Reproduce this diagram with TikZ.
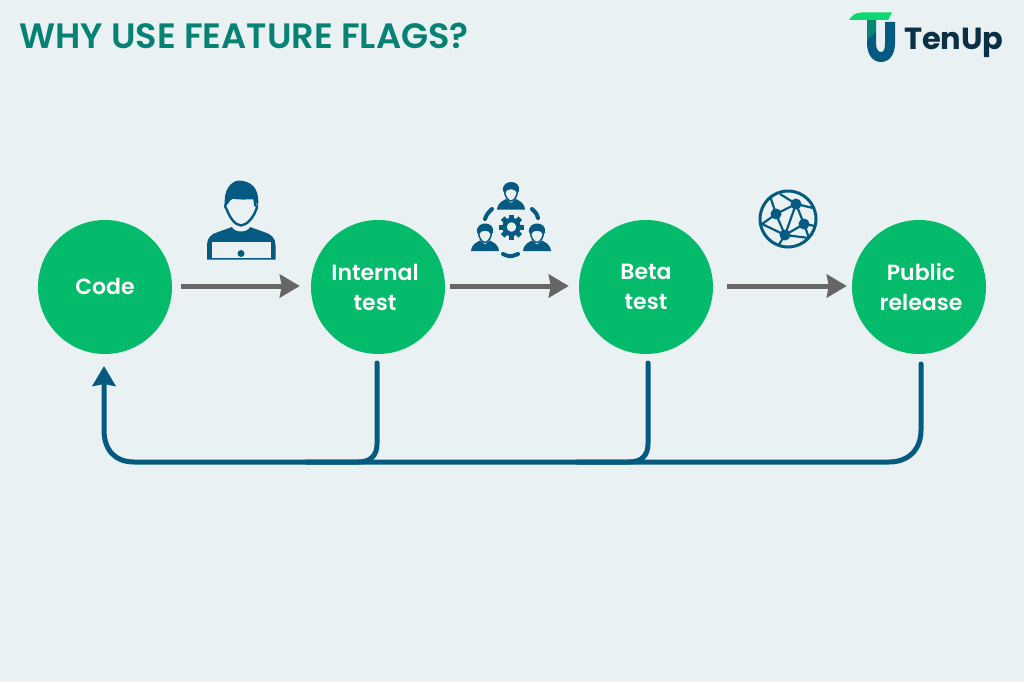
\documentclass[tikz,border=0pt]{standalone}
\usepackage{fontspec}
\setmainfont{Poppins}[BoldFont={Poppins SemiBold}]
\newfontfamily\brandfont{Poppins}[UprightFont={Poppins SemiBold},BoldFont={Poppins Bold}]
\usetikzlibrary{arrows.meta}
\definecolor{bgc}{HTML}{E9F1F2}
\definecolor{greenc}{HTML}{04BA6B}
\definecolor{titlec}{HTML}{058273}
\definecolor{bluec}{HTML}{055A82}
\definecolor{grayc}{HTML}{666666}
\definecolor{navyc}{HTML}{0B2F45}
\definecolor{logog}{HTML}{0BD86E}
\definecolor{logot}{HTML}{0A8571}
\tikzset{
  stage/.style={circle,fill=greenc,minimum size=134pt,inner sep=0pt,text=white,font=\fontsize{22}{30}\selectfont\bfseries,align=center},
  fwd/.style={draw=grayc,line width=5pt,-{Stealth[length=20pt,width=23pt,inset=2pt]}},
  back/.style={draw=bluec,line width=5pt,line cap=round},
  icl/.style={draw=bluec,line width=2.400pt,line cap=round,line join=round},
  icon/.style={inner sep=0pt,outer sep=0pt},
  miniperson/.pic={
    \fill[bluec] (-14,13.500) .. controls (-13,6) and (-8,5) .. (-5,3) -- (0,7) -- (5,3) .. controls (8,5) and (13,6) .. (14,13.500) -- cycle;
    \fill[bluec] (-8,-5) .. controls (-9,-12) and (-3,-14) .. (0,-14) .. controls (5,-14) and (9,-11) .. (8,-5) -- (6,-3) .. controls (5,-8) and (-5,-8) .. (-6,-3) -- cycle;
    \draw[bluec,line width=1.500pt] (-6.500,-5) .. controls (-6.500,0) and (-3,5) .. (0,5) .. controls (3,5) and (6.500,0) .. (6.500,-5);
  }
}
\begin{document}
\begin{tikzpicture}[x=1pt,y=-1pt]
\useasboundingbox (0,0) rectangle (1024,682);
\fill[bgc] (0,0) rectangle (1024,682);
% title
\node[icon,anchor=base west,text=titlec,font=\fontsize{35.2}{40}\selectfont\bfseries] (title) at (19,48.500) {WHY USE FEATURE FLAGS?};
% logo
\fill[bluec] (867,36) -- (867,43) .. controls (867,55) and (873,62) .. (881,62) .. controls (889,62) and (895,55) .. (895,43) -- (895,22) -- (885,22) -- (885,43) .. controls (885,49) and (884,52) .. (881,52) .. controls (878,52) and (876,49) .. (876,43) -- (876,30) -- cycle;
\fill[logot] (867,20) -- (876,20) -- (876,31) -- (867,40) -- cycle;
\fill[logog] (849,20) .. controls (852,15) and (856,12.500) .. (862,12.500) -- (892,12.500) -- (888,20) -- cycle;
\node[icon,anchor=base west,text=navyc,font=\fontsize{30.500}{36}\brandfont\bfseries] (brand) at (904,50) {TenUp};
% stages
\node[stage] (code) at (105,287) {\raisebox{1pt}{Code}};
\node[stage] (internal) at (378,287) {\hspace*{-6pt}Internal\\\hspace*{-6pt}test};
\node[stage] (beta) at (646,287) {Beta\\test};
\node[stage] (public) at (919,287) {\hspace{4pt}Public\\\hspace{4pt}release};
% forward arrows
\draw[fwd,shorten <=9pt,shorten >=11pt] ([yshift=1pt]code.east) -- ([yshift=1pt]internal.west);
\draw[fwd,shorten <=5pt,shorten >=10pt] ([yshift=1pt]internal.east) -- ([yshift=1pt]beta.west);
\draw[fwd,shorten <=14pt,shorten >=5pt] ([yshift=1pt]beta.east) -- ([yshift=1pt]public.west);
% feedback
\coordinate (s1) at (377,363);
\coordinate (s2) at (648,363);
\coordinate (s3) at (921,364);
\coordinate (e1) at (306,462);
\coordinate (e2) at (577,462);
\coordinate (tip) at (104,366);
\draw[back] (s1) -- (377,444) .. controls (377,456) and (370,462) .. (358,462) -- (e1);
\draw[back] (s2) -- (648,444) .. controls (648,456) and (641,462) .. (629,462) -- (e2);
\draw[back,-{Stealth[length=20pt,width=23pt,inset=2pt]}] (s3) -- (921,430) .. controls (921,450) and (908,462) .. (889,462) -- (134,462) .. controls (115,462) and (104,450) .. (104,430) -- (tip);
% person
\fill[bluec] (207,259.500) -- (207,245) .. controls (207,238) and (211,234) .. (218,232) -- (232,227) .. controls (234,233) and (248,233) .. (250,227) -- (264,232) .. controls (271,234) and (275.500,238) .. (275.500,245) -- (275.500,259.500) -- cycle;
\fill[bgc] (212,241.500) -- (271,241.500) -- (271,257.500) -- (212,257.500) -- cycle;
\fill[bluec] (241,253.500) circle[radius=3.500];
\fill[bluec] (225,206) .. controls (223,190) and (231,181) .. (239,180.500) .. controls (251,181) and (260,188) .. (258,206) -- (254,199) -- (232,199) -- (228,204) -- cycle;
\draw[icl,fill=bgc] (233,197.500) .. controls (240,199) and (250,198) .. (254,198) .. controls (255,200) and (255,202) .. (255,205) .. controls (258,206) and (257,209) .. (256,210) .. controls (253,218) and (247,225) .. (241,225.500) .. controls (235,225) and (230,218) .. (227,210) .. controls (225,208) and (224,205) .. (227,203) .. controls (229,200) and (230,198) .. (233,197.500) -- cycle;
% group
\pic at (511,196) {miniperson};
\pic at (485,237.500) {miniperson};
\pic at (537,237.500) {miniperson};
\draw[bluec,line width=4pt,line cap=round] (485,219) .. controls (487,214) .. (492,209);
\draw[bluec,line width=4pt,line cap=round] (532,209) .. controls (537,214) .. (538,218);
\draw[bluec,line width=4pt,line cap=round] (503,254) .. controls (510,257) .. (518,254);
\foreach \a in {0,45,...,315} {
  \draw[bluec,line width=5pt] (511.500,227) ++(\a:7) -- ++(\a:5.500);
}
\draw[bluec,line width=4.500pt,fill=bgc] (511.500,227) circle[radius=7];
% globe
\draw[bluec,line width=3pt] (788,219) circle[radius=28];
\coordinate (g1) at (796,204);
\coordinate (g2) at (776,214);
\coordinate (g3) at (804,224);
\coordinate (g4) at (785,235);
\foreach \p in {g1,g2,g3,g4} \fill[bluec] (\p) circle[radius=5.500];
\draw[bluec,line width=2.200pt]
  (g2) -- (g1) -- (g3) -- (g4) -- (g2)
  (g1) -- (g4)
  (g1) -- (780,194)
  (g1) -- (813,208)
  (g2) -- (770,196)
  (g2) -- (762,224)
  (g3) -- (815,226)
  (g3) -- (809,238)
  (g4) -- (778,246)
  (g4) -- (809,238)
  (g4) -- (762,224);
\end{tikzpicture}
\end{document}
